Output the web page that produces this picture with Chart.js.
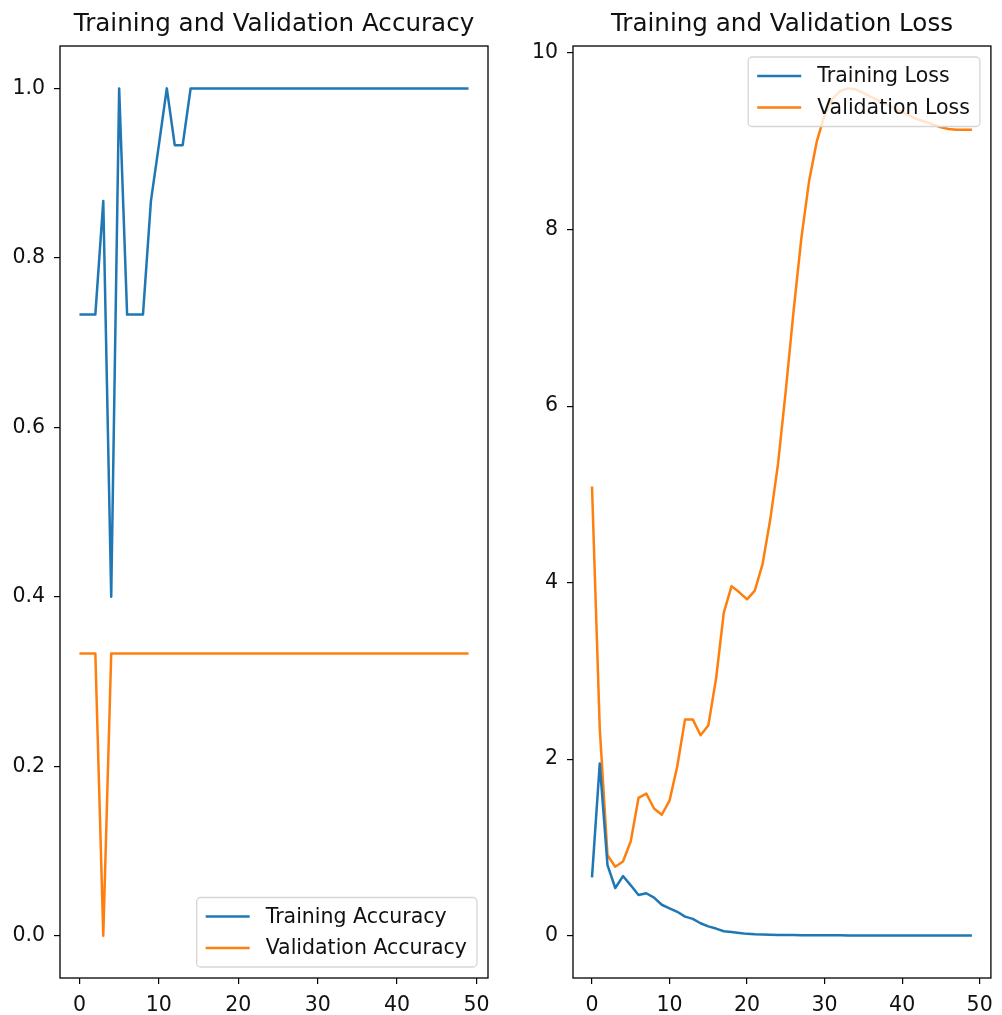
<!DOCTYPE html>
<html>
<head>
<meta charset="utf-8">
<script src="https://cdn.jsdelivr.net/npm/chart.js@4.4.1/dist/chart.umd.min.js"></script>
<style>
  html, body { margin: 0; padding: 0; background: #fff; }
  .panel { position: absolute; top: 0; height: 1015px; }
  #accPanel { left: 0; width: 500px; }
  #lossPanel { left: 500px; width: 502px; }
</style>
</head>
<body>
<div class="panel" id="accPanel"><canvas id="accChart"></canvas></div>
<div class="panel" id="lossPanel"><canvas id="lossChart"></canvas></div>
<script>
// epochs on the x axis
const epochs = [0, 1, 2, 3, 4, 5, 6, 7, 8, 9, 10, 11, 12, 13, 14, 15, 16, 17, 18, 19,
                20, 21, 22, 23, 24, 25, 26, 27, 28, 29, 30, 31, 32, 33, 34, 35, 36, 37, 38, 39,
                40, 41, 42, 43, 44, 45, 46, 47, 48, 49];

const trainAcc = [0.733, 0.733, 0.733, 0.867, 0.4, 1.0, 0.733, 0.733, 0.733, 0.867,
                  0.933, 1.0, 0.933, 0.933, 1.0, 1.0, 1.0, 1.0, 1.0, 1.0,
                  1.0, 1.0, 1.0, 1.0, 1.0, 1.0, 1.0, 1.0, 1.0, 1.0,
                  1.0, 1.0, 1.0, 1.0, 1.0, 1.0, 1.0, 1.0, 1.0, 1.0,
                  1.0, 1.0, 1.0, 1.0, 1.0, 1.0, 1.0, 1.0, 1.0, 1.0];
const valAcc = [0.333, 0.333, 0.333, 0.0, 0.333, 0.333, 0.333, 0.333, 0.333, 0.333,
                0.333, 0.333, 0.333, 0.333, 0.333, 0.333, 0.333, 0.333, 0.333, 0.333,
                0.333, 0.333, 0.333, 0.333, 0.333, 0.333, 0.333, 0.333, 0.333, 0.333,
                0.333, 0.333, 0.333, 0.333, 0.333, 0.333, 0.333, 0.333, 0.333, 0.333,
                0.333, 0.333, 0.333, 0.333, 0.333, 0.333, 0.333, 0.333, 0.333, 0.333];

const trainLoss = [0.66, 1.95, 0.80, 0.54, 0.675, 0.57, 0.46, 0.48, 0.43, 0.35,
                   0.31, 0.27, 0.215, 0.19, 0.14, 0.105, 0.08, 0.05, 0.04, 0.03,
                   0.02, 0.015, 0.012, 0.01, 0.008, 0.007, 0.006, 0.005, 0.0045, 0.004,
                   0.0036, 0.0033, 0.003, 0.0028, 0.0026, 0.0024, 0.0022, 0.002, 0.0019, 0.0018,
                   0.0017, 0.0016, 0.0015, 0.0014, 0.0013, 0.0012, 0.0012, 0.0011, 0.0011, 0.001];
const valLoss = [5.09, 2.35, 0.91, 0.78, 0.84, 1.07, 1.56, 1.61, 1.44, 1.37,
                 1.53, 1.92, 2.45, 2.45, 2.27, 2.38, 2.91, 3.66, 3.96, 3.89,
                 3.81, 3.91, 4.21, 4.72, 5.35, 6.18, 7.08, 7.9, 8.55, 9.0,
                 9.3, 9.48, 9.57, 9.6, 9.59, 9.55, 9.5, 9.46, 9.42, 9.37,
                 9.33, 9.29, 9.25, 9.22, 9.19, 9.16, 9.14, 9.13, 9.13, 9.13];

// tick labels
const epochTicks = [0, 10, 20, 30, 40, 50];
const accTicks = [0.0, 0.2, 0.4, 0.6, 0.8, 1.0];
const lossTicks = [0, 2, 4, 6, 8, 10];

const BLUE = '#1f77b4';
const ORANGE = '#ff7f0e';
const FONT = '"DejaVu Sans", sans-serif';
const TICK_SIZE = 20.5;

// frame around the plot + matplotlib-like legend box drawn on top of the lines
const frameAndLegend = {
    id: 'frameAndLegend',
    afterDatasetsDraw(chart, args, opts) {
        const ctx = chart.ctx;
        const a = chart.chartArea;

        ctx.save();
        ctx.strokeStyle = '#000';
        ctx.lineWidth = 1.3;
        ctx.strokeRect(a.left, a.top, a.right - a.left, a.bottom - a.top);

        // legend
        ctx.font = TICK_SIZE + 'px ' + FONT;
        const items = chart.data.datasets;
        const textW = Math.max(...items.map(d => ctx.measureText(d.label).width));
        const padL = 9, handle = 44, gap = 16, padR = 10, rowH = 31.5, padV = 19;
        const w = padL + handle + gap + textW + padR;
        const h = padV * 2 + rowH * (items.length - 1);
        const x = a.right - 11 - w;
        const y = opts.corner === 'top' ? a.top + 11 : a.bottom - 11 - h;

        ctx.beginPath();
        ctx.roundRect(x, y, w, h, 4);
        ctx.fillStyle = 'rgba(255,255,255,0.8)';
        ctx.fill();
        ctx.strokeStyle = '#d6d6d6';
        ctx.lineWidth = 1.3;
        ctx.stroke();

        items.forEach((d, i) => {
            const cy = y + padV + i * rowH;
            ctx.beginPath();
            ctx.moveTo(x + padL, cy);
            ctx.lineTo(x + padL + handle, cy);
            ctx.strokeStyle = d.borderColor;
            ctx.lineWidth = 2.5;
            ctx.stroke();
            ctx.fillStyle = '#111';
            ctx.textBaseline = 'middle';
            ctx.textAlign = 'left';
            ctx.fillText(d.label, x + padL + handle + gap, cy + 1);
        });
        ctx.restore();
    }
};

function makeChart(canvasId, title, series, yMin, yMax, yTicks, yFmt, yAxisW, padRight, legendCorner) {
    const ctx = document.getElementById(canvasId).getContext('2d');
    return new Chart(ctx, {
        type: 'line',
        data: {
            datasets: series.map(s => ({
                label: s.label,
                data: epochs.map((e, i) => ({ x: e, y: s.values[i] })),
                borderColor: s.color,
                backgroundColor: s.color,
                borderWidth: 2.5,
                borderJoinStyle: 'round',
                pointRadius: 0,
                tension: 0,
                fill: false
            }))
        },
        options: {
            responsive: true,
            maintainAspectRatio: false,
            animation: false,
            devicePixelRatio: 1,
            layout: { padding: { left: 0, right: padRight, top: 0, bottom: 0 } },
            plugins: {
                legend: { display: false },
                tooltip: { enabled: false },
                title: {
                    display: true,
                    text: title,
                    fullSize: false,
                    color: '#111',
                    font: { family: FONT, size: 24.6, weight: 'normal', lineHeight: 1.2 },
                    padding: { top: 10, bottom: 6.5 }
                },
                frameAndLegend: { corner: legendCorner }
            },
            scales: {
                x: {
                    type: 'linear',
                    min: -2.45,
                    max: 51.45,
                    afterBuildTicks: s => { s.ticks = epochTicks.map(v => ({ value: v })); },
                    afterFit: s => { s.height = 37; },
                    grid: { drawOnChartArea: false, drawTicks: true, tickLength: 6, color: '#000', lineWidth: 1.2 },
                    border: { display: false },
                    ticks: {
                        color: '#111',
                        padding: 9,
                        maxRotation: 0,
                        font: { family: FONT, size: TICK_SIZE },
                        callback: v => String(v)
                    }
                },
                y: {
                    type: 'linear',
                    min: yMin,
                    max: yMax,
                    afterBuildTicks: s => { s.ticks = yTicks.map(v => ({ value: v })); },
                    afterFit: s => { s.width = yAxisW; },
                    grid: { drawOnChartArea: false, drawTicks: true, tickLength: 6, color: '#000', lineWidth: 1.2 },
                    border: { display: false },
                    ticks: {
                        color: '#111',
                        padding: 9,
                        font: { family: FONT, size: TICK_SIZE },
                        callback: yFmt
                    }
                }
            }
        },
        plugins: [frameAndLegend]
    });
}

makeChart('accChart', 'Training and Validation Accuracy',
    [{ label: 'Training Accuracy', values: trainAcc, color: BLUE },
     { label: 'Validation Accuracy', values: valAcc, color: ORANGE }],
    -0.05, 1.05, accTicks, v => v.toFixed(1), 60, 12, 'bottom');

makeChart('lossChart', 'Training and Validation Loss',
    [{ label: 'Training Loss', values: trainLoss, color: BLUE },
     { label: 'Validation Loss', values: valLoss, color: ORANGE }],
    -0.48, 10.08, lossTicks, v => String(v), 73, 2, 'top');
</script>
</body>
</html>
